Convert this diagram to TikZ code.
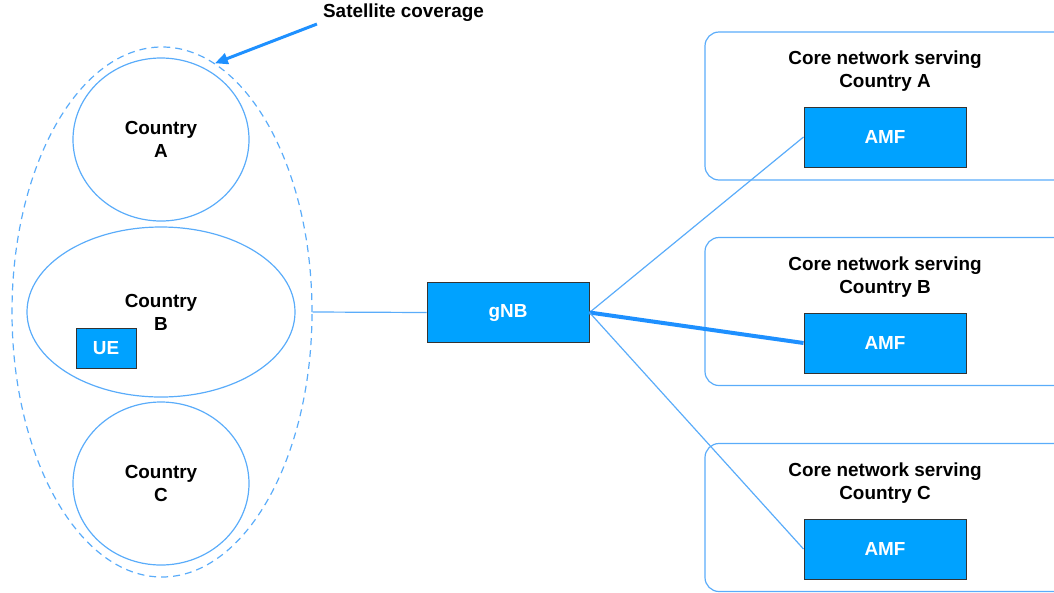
\documentclass[tikz,border=0pt]{standalone}
\usepackage{fontspec}
\setmainfont{Liberation Sans}
\usetikzlibrary{shapes.geometric,arrows.meta}
\definecolor{linkblue}{RGB}{90,172,250}
\definecolor{arrowblue}{RGB}{30,144,255}
\definecolor{boxblue}{RGB}{0,162,255}

\begin{document}
\begin{tikzpicture}[x=1pt,y=-1pt,
	every node/.style={font=\fontsize{18.9}{23}\selectfont\bfseries,align=center,inner sep=0pt},
	country/.style={draw=linkblue,line width=1.2pt,ellipse},
	nf/.style={draw=black!80,fill=boxblue,text=white,line width=1pt,minimum width=162pt,minimum height=60pt},
	corenet/.style={draw=linkblue,line width=1.2pt,rounded corners=14pt,minimum width=365pt,minimum height=148pt},
	link/.style={draw=linkblue,line width=1.2pt}]

				\useasboundingbox (0,0) rectangle (1054,592);
				\clip (0,0) rectangle (1054,592);

				% satellite footprint
				\node[country,dash pattern=on 7pt off 5pt,minimum width=300pt,minimum height=530pt] (coverage) at (162,312) {};

				\node[country,minimum width=176pt,minimum height=163pt] (countryA) at (161,139.5) {Country\\A};
				\node[country,minimum width=268pt,minimum height=170pt] (countryB) at (161,312) {Country\\B};
				\node[country,minimum width=176pt,minimum height=163pt] (countryC) at (161,483.5) {Country\\C};
				\node[nf,minimum width=60pt,minimum height=40pt] (ue) at (106,348) {UE};

				\node (satlabel) at (403.5,13) {Satellite coverage};

				\node[nf] (gnb) at (508,312.5) {gNB};

				% core networks
				\node[corenet] (coreA) at (887.5,106) {};
				\node (titleA) at (885,71.5) {Core network serving\\Country A};
				\node[nf] (amfA) at (885,137) {AMF};

				\node[corenet] (coreB) at (887.5,311.5) {};
				\node (titleB) at (885,277) {Core network serving\\Country B};
				\node[nf] (amfB) at (885,343) {AMF};

				\node[corenet] (coreC) at (887.5,517.5) {};
				\node (titleC) at (885,483) {Core network serving\\Country C};
				\node[nf] (amfC) at (885,549) {AMF};

				\draw[arrowblue,line width=3pt,-{Triangle[length=13pt,width=11pt]}] ([xshift=-6pt,yshift=-2pt]satlabel.south west) -- (coverage.78);

				\draw[link] (coverage.east) -- (gnb.west);
				\draw[link] (gnb.east) -- (amfA.west);
				\draw[link,draw=arrowblue,line width=4pt] (gnb.east) -- (amfB.west);
				\draw[link] (gnb.east) -- (amfC.west);

			\end{tikzpicture}
\end{document}
